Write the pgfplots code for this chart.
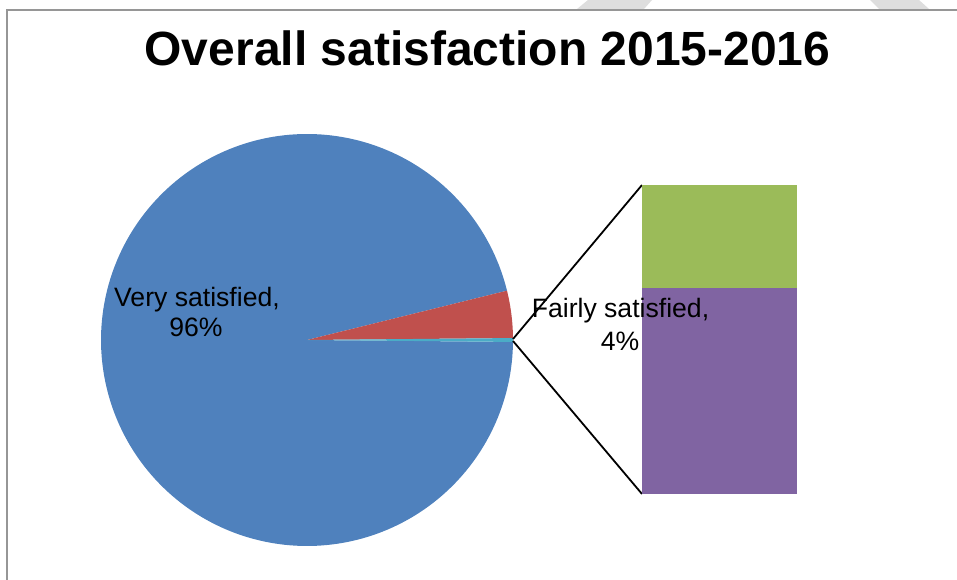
\documentclass[border=0pt]{standalone}
\usepackage{pgfplots}
\pgfplotsset{compat=1.18}
\usepackage{pgfplotstable}
\usepackage{fontspec}
\setmainfont{Liberation Sans}
\definecolor{pieblue}{HTML}{4F81BD}
\definecolor{piered}{HTML}{C0504D}
\definecolor{piecyan}{HTML}{4BACC6}
\definecolor{bargreen}{HTML}{9BBB59}
\definecolor{barpurple}{HTML}{8064A2}
\definecolor{framegrey}{HTML}{969696}
\definecolor{wmgrey}{HTML}{DEDEDE}

% main pie: Very satisfied, Fairly satisfied, Other (shown in bar)
\pgfplotstableread{
name value
Very 96.0
Fairly 3.7
Other 0.3
}\pietable
% breakdown of "Other" shown in the bar
\pgfplotstableread{
x value
0 0.2
}\barpurpletab
\pgfplotstableread{
x value
0 0.1
}\bargreentab

\begin{document}
\begin{tikzpicture}
\path[use as bounding box] (0pt,0pt) rectangle (957pt,580pt);
\pgfplotstablegetelem{0}{value}\of\pietable \let\vA\pgfplotsretval
\pgfplotstablegetelem{1}{value}\of\pietable \let\vB\pgfplotsretval
\pgfplotstablegetelem{2}{value}\of\pietable \let\vC\pgfplotsretval
\pgfmathsetmacro{\aZero}{-\vC*1.8}
\pgfmathsetmacro{\aOne}{\vC*1.8}
\pgfmathsetmacro{\aTwo}{\aOne+\vB*3.6}
\pgfmathsetmacro{\aEnd}{\aZero+360}
\begin{axis}[
  at={(0pt,0pt)}, anchor=south west,
  scale only axis, width=957pt, height=580pt,
  xmin=0, xmax=957, ymin=0, ymax=580,
  hide axis, clip=false,
]
% watermark stripes and frame
\addplot[fill=wmgrey, draw=none] coordinates {(588,580) (652,580) (644,571) (577,571)} -- cycle;
\addplot[fill=wmgrey, draw=none] coordinates {(870,580) (919,580) (929,571) (879,571)} -- cycle;
\addplot[framegrey, line width=1.8pt] coordinates {(7,0) (7,570) (957,570)};
% pie slices
\addplot[fill=pieblue, draw=none, domain=\aTwo:\aEnd, samples=240, variable=\t]
  ({307+206*cos(\t)},{240+206*sin(\t)}) -- (axis cs:307,240) -- cycle;
\addplot[fill=piered, draw=none, domain=\aOne:\aTwo, samples=30, variable=\t]
  ({307+206*cos(\t)},{240+206*sin(\t)}) -- (axis cs:307,240) -- cycle;
\addplot[fill=piecyan, draw=none, domain=\aZero:\aOne, samples=5, variable=\t]
  ({307+206*cos(\t)},{240+206*sin(\t)}) -- (axis cs:307,240) -- cycle;
% connector lines
\addplot[black, line width=1.8pt] coordinates {(513,241) (642,395)};
\addplot[black, line width=1.8pt] coordinates {(513,239) (642,86)};
% title
\node[anchor=base, font=\fontsize{48}{58}\selectfont\bfseries] at (axis cs:487.5,514.5) {Overall satisfaction 2015-2016};
\end{axis}
\begin{axis}[
  at={(642pt,86pt)}, anchor=south west,
  scale only axis, width=155pt, height=309pt,
  xmin=-0.5, xmax=0.5, ymin=0, ymax=0.3,
  hide axis, ybar stacked, bar width=155pt,
  clip=false,
]
\addplot[fill=barpurple, draw=none] table[x=x, y=value] {\barpurpletab};
\addplot[fill=bargreen, draw=none] table[x=x, y=value] {\bargreentab};
\end{axis}
\begin{axis}[
  at={(0pt,0pt)}, anchor=south west,
  scale only axis, width=957pt, height=580pt,
  xmin=0, xmax=957, ymin=0, ymax=580,
  hide axis, clip=false,
]
\node[anchor=base, font=\fontsize{26.6}{31}\selectfont] at (axis cs:197,273.5) {Very satisfied,};
\node[anchor=base, font=\fontsize{26.6}{31}\selectfont] at (axis cs:196,243.5) {96\%};
\node[anchor=base, font=\fontsize{26.6}{31}\selectfont] at (axis cs:620.5,262) {Fairly satisfied,};
\node[anchor=base, font=\fontsize{26.6}{31}\selectfont] at (axis cs:620,229) {4\%};
\end{axis}
\end{tikzpicture}
\end{document}
